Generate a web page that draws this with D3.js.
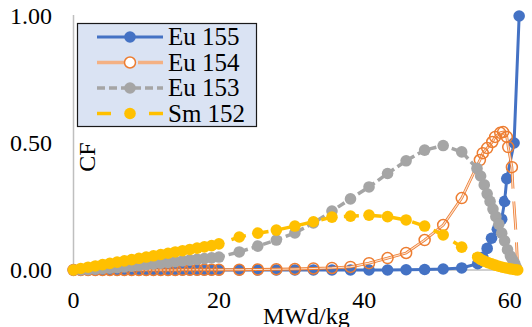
<!DOCTYPE html>
<html>
<head>
<meta charset="utf-8">
<script src="https://cdn.jsdelivr.net/npm/d3@7"></script>
<style>
  html, body { margin: 0; padding: 0; background: #fff; }
  svg { display: block; }
  text { font-family: "Liberation Serif", "DejaVu Serif", serif; }
</style>
</head>
<body>
<svg id="chart" width="532" height="327"></svg>
<script>
// burnup steps (MWd/kg) shared by the regular part of every series
const burnup = [0, 1, 2, 3, 4, 5, 6, 7, 8, 9, 10, 11, 12, 13, 14, 15, 16, 17, 18, 19, 20,
  22.8, 25.35, 27.9, 30.45, 33.0, 35.55, 38.1, 40.65, 43.2, 45.75, 48.3, 50.85, 53.4];

const eu155 = [0, 0, 0, 0, 0, 0, 0, 0, 0, 0, 0, 0, 0, 0, 0, 0, 0, 0, 0, 0, 0,
  0, 0, 0, 0, 0, 0, 0, 0, 0, 0.001, 0.002, 0.004, 0.008];
const eu154 = [0, 0, 0, 0, 0, 0, 0, 0, 0, 0, 0, 0, 0, 0, 0, 0.001, 0.001, 0.001, 0.001, 0.001, 0.001,
  0.001, 0.002, 0.003, 0.004, 0.006, 0.008, 0.012, 0.027, 0.047, 0.067, 0.118, 0.177, 0.283];
const eu153 = [0, 0.0005, 0.0015, 0.003, 0.005, 0.007, 0.009, 0.012, 0.015, 0.018, 0.021, 0.024, 0.027, 0.03, 0.033, 0.036, 0.039, 0.042, 0.045, 0.048, 0.051,
  0.071, 0.094, 0.118, 0.146, 0.185, 0.232, 0.28, 0.327, 0.38, 0.43, 0.472, 0.49, 0.465];
const sm152 = [0, 0.006, 0.011, 0.016, 0.021, 0.026, 0.031, 0.036, 0.041, 0.046, 0.051, 0.056, 0.061, 0.066, 0.071, 0.076, 0.081, 0.086, 0.091, 0.096, 0.103,
  0.13, 0.145, 0.157, 0.173, 0.19, 0.208, 0.212, 0.216, 0.21, 0.197, 0.173, 0.138, 0.09];

// end of cycle: finer steps, [burnup, CF]
const eu155Tail = [[55.6, 0.025], [56.3, 0.05], [56.9, 0.085], [57.5, 0.125], [58.3, 0.16], [58.9, 0.2],
  [59.3, 0.27], [59.6, 0.36], [60.6, 0.5], [61.3, 1.0]];
const eu154Tail = [[55.9, 0.433], [56.3, 0.46], [56.9, 0.48], [57.6, 0.504], [58.0, 0.524], [58.7, 0.54],
  [59.1, 0.543], [59.6, 0.524], [59.8, 0.484], [60.3, 0.405]];
const eu154End = [[60.3, 0.405], [60.5, 0.295], [60.9, 0.134], [61.1, 0.005]];
const eu153Tail = [[55.5, 0.40], [56.0, 0.37], [56.5, 0.335], [56.9, 0.30], [57.3, 0.27], [57.7, 0.24],
  [58.1, 0.21], [58.5, 0.18], [58.9, 0.145], [59.3, 0.115], [59.7, 0.08], [60.1, 0.055],
  [60.4, 0.04], [60.7, 0.025], [60.9, 0.01]];
const sm152Tail = [[55.6, 0.05], [56.0, 0.042], [56.5, 0.035], [57.0, 0.029], [57.5, 0.024], [58.0, 0.019],
  [58.5, 0.015], [59.0, 0.011], [59.5, 0.008], [60.0, 0.005], [60.4, 0.003], [60.8, 0.001], [61.1, 0]];

const xTicks = [0, 20, 40, 60];
const yTicks = [0, 0.5, 1.0];
const seriesNames = ["Eu 155", "Eu 154", "Eu 153", "Sm 152"];

const FONT = "Liberation Serif";
const svg = d3.select("#chart");
const x = d3.scaleLinear().domain([0, 60]).range([73.5, 509.7]);
const y = d3.scaleLinear().domain([0, 1]).range([270, 16]);

const pts = (ys, tail) => burnup.map((b, i) => [b, ys[i]]).concat(tail);
const line = d3.line().x((d) => x(d[0])).y((d) => y(d[1]));

// axes: plain grey lines, no tick marks
svg.append("line").attr("x1", x(0)).attr("x2", x(0)).attr("y1", 15).attr("y2", y(0))
  .attr("stroke", "#bfbfbf").attr("stroke-width", 1.5);
svg.append("line").attr("x1", x(0)).attr("x2", x(61.3)).attr("y1", y(0)).attr("y2", y(0))
  .attr("stroke", "#bfbfbf").attr("stroke-width", 1.5);

svg.append("g").selectAll("text").data(yTicks).join("text")
  .attr("x", 52).attr("y", (d) => y(d)).attr("dy", "0.35em")
  .attr("text-anchor", "end").attr("font-family", FONT).attr("font-size", 24).attr("fill", "#000")
  .text((d) => d.toFixed(2));

svg.append("g").selectAll("text").data(xTicks).join("text")
  .attr("x", (d) => x(d)).attr("y", 308)
  .attr("text-anchor", "middle").attr("font-family", FONT).attr("font-size", 24).attr("fill", "#000")
  .text((d) => d);

svg.append("text").attr("x", 263).attr("y", 324).attr("font-family", FONT)
  .attr("font-size", 24).text("MWd/kg");
svg.append("text").attr("transform", "translate(95,157) rotate(-90)").attr("font-family", FONT)
  .attr("text-anchor", "middle").attr("font-size", 24).text("CF");

// Eu 155
const g155 = svg.append("g");
const d155 = pts(eu155, eu155Tail);
g155.append("path").attr("d", line(d155)).attr("fill", "none")
  .attr("stroke", "#4472C4").attr("stroke-width", 3);
g155.selectAll("circle").data(d155).join("circle")
  .attr("cx", (d) => x(d[0])).attr("cy", (d) => y(d[1])).attr("r", 5.8).attr("fill", "#4472C4");

// Eu 154 (bordered line, open circles)
const g154 = svg.append("g");
const d154 = pts(eu154, eu154Tail);
const full154 = d154.concat(eu154End.slice(1));
g154.append("path").attr("d", line(full154)).attr("fill", "none")
  .attr("stroke", "#ED7D31").attr("stroke-width", 2.8);
g154.append("path").attr("d", line(full154)).attr("fill", "none")
  .attr("stroke", "#FBE0CF").attr("stroke-width", 1.2);
g154.selectAll("circle.end").data(eu154End.slice(1, 3)).join("circle").attr("class", "end")
  .attr("cx", (d) => x(d[0])).attr("cy", (d) => y(d[1])).attr("r", 6.5).attr("fill", "#fff");
g154.selectAll("circle.m").data(d154).join("circle").attr("class", "m")
  .attr("cx", (d) => x(d[0])).attr("cy", (d) => y(d[1])).attr("r", 5.5)
  .attr("fill", "none").attr("stroke", "#ED7D31").attr("stroke-width", 1.5);

// Eu 153
const g153 = svg.append("g");
const d153 = pts(eu153, eu153Tail);
g153.append("path").attr("d", line(d153)).attr("fill", "none")
  .attr("stroke", "#A5A5A5").attr("stroke-width", 3.5).attr("stroke-dasharray", "8,4");
g153.selectAll("circle").data(d153).join("circle")
  .attr("cx", (d) => x(d[0])).attr("cy", (d) => y(d[1])).attr("r", 5.8).attr("fill", "#A5A5A5");

// Sm 152
const g152 = svg.append("g");
const d152 = pts(sm152, sm152Tail);
g152.append("path").attr("d", line(d152)).attr("fill", "none")
  .attr("stroke", "#FFC000").attr("stroke-width", 3.5).attr("stroke-dasharray", "15,8");
g152.selectAll("circle").data(d152).join("circle")
  .attr("cx", (d) => x(d[0])).attr("cy", (d) => y(d[1])).attr("r", 5.8).attr("fill", "#FFC000");

// legend
const lg = svg.append("g");
lg.append("rect").attr("x", 77.5).attr("y", 23.5).attr("width", 179).attr("height", 103)
  .attr("fill", "#DAE3F3").attr("stroke", "#1a1a1a").attr("stroke-width", 1.2);
const rowY = (i) => 37 + i * 25.5;
const mx = 130;

lg.append("line").attr("x1", 97).attr("x2", 163).attr("y1", rowY(0)).attr("y2", rowY(0))
  .attr("stroke", "#4472C4").attr("stroke-width", 3);
lg.append("circle").attr("cx", mx).attr("cy", rowY(0)).attr("r", 5.8).attr("fill", "#4472C4");

[[97, 124], [138, 163]].forEach(([a, b]) => {
  lg.append("line").attr("x1", a).attr("x2", b).attr("y1", rowY(1)).attr("y2", rowY(1))
    .attr("stroke", "#F4B183").attr("stroke-width", 3.5);
});
lg.append("circle").attr("cx", mx).attr("cy", rowY(1)).attr("r", 5.5)
  .attr("fill", "#fff").attr("stroke", "#ED7D31").attr("stroke-width", 1.5);

lg.append("line").attr("x1", 97).attr("x2", 163).attr("y1", rowY(2)).attr("y2", rowY(2))
  .attr("stroke", "#A5A5A5").attr("stroke-width", 3.5).attr("stroke-dasharray", "8,4");
lg.append("circle").attr("cx", mx).attr("cy", rowY(2)).attr("r", 5.8).attr("fill", "#A5A5A5");

[[97, 111], [149, 163]].forEach(([a, b]) => {
  lg.append("line").attr("x1", a).attr("x2", b).attr("y1", rowY(3)).attr("y2", rowY(3))
    .attr("stroke", "#FFC000").attr("stroke-width", 3.5);
});
lg.append("circle").attr("cx", mx).attr("cy", rowY(3)).attr("r", 5.8).attr("fill", "#FFC000");

lg.selectAll("text").data(seriesNames).join("text")
  .attr("x", 168).attr("y", (d, i) => rowY(i)).attr("dy", "0.33em")
  .attr("font-family", FONT).attr("font-size", 25).attr("fill", "#000")
  .text((d) => d);
</script>
</body>
</html>
